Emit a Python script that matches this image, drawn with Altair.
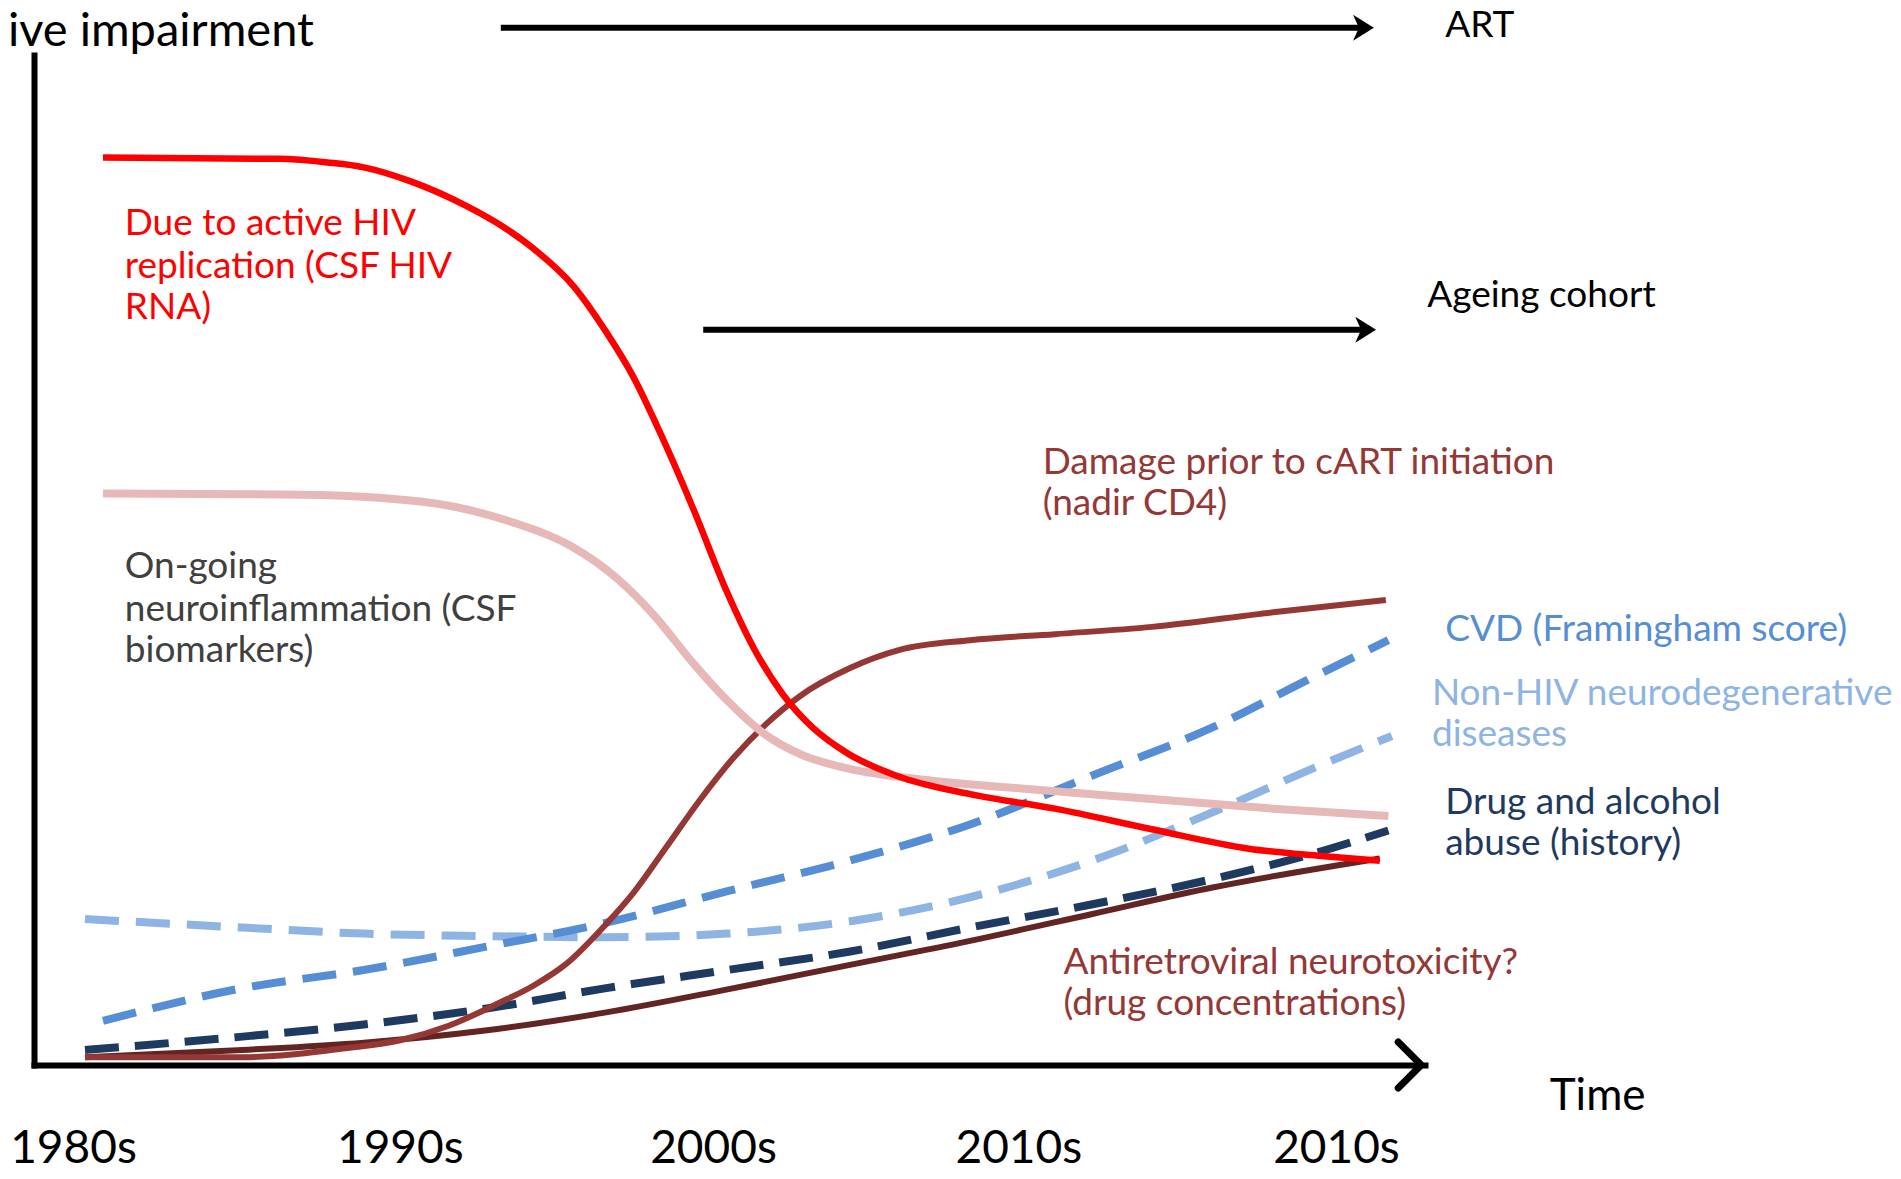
import altair as alt
import pandas as pd

# x: time in decades (0 = 1980s ... 4 = last "2010s"), y: impairment level (0-100)
tick_pos = [0.0, 1.035, 2.027, 2.994, 4.0]
tick_labels = ["1980s", "1990s", "2000s", "2010s", "2010s"]

red_x = [0.095, 0.652, 0.806, 0.921, 1.074, 1.247, 1.362, 1.458, 1.585, 1.689, 1.773, 1.858, 1.965, 2.069, 2.157, 2.249, 2.342, 2.457, 2.610, 2.841, 3.110, 3.417, 3.724, 3.954, 4.139]
red_y = [89.84, 89.72, 89.36, 88.88, 87.44, 85.04, 83.00, 80.84, 77.12, 72.56, 68.23, 62.71, 55.03, 46.99, 41.22, 36.66, 33.42, 30.78, 28.62, 26.82, 25.38, 23.34, 21.42, 20.70, 20.22]

pink_x = [0.095, 0.729, 1.113, 1.382, 1.574, 1.727, 1.842, 1.958, 2.073, 2.188, 2.303, 2.457, 2.687, 3.033, 3.417, 3.801, 4.166]
pink_y = [56.59, 56.47, 55.75, 53.83, 51.43, 48.07, 44.46, 40.02, 36.06, 32.82, 30.78, 29.34, 28.26, 27.30, 26.34, 25.38, 24.66]

dmg_x = [0.038, 0.537, 0.882, 1.036, 1.190, 1.351, 1.458, 1.562, 1.689, 1.773, 1.881, 1.985, 2.092, 2.196, 2.303, 2.461, 2.618, 2.841, 3.110, 3.417, 3.801, 4.158]
dmg_y = [0.77, 0.77, 1.73, 2.45, 3.89, 6.17, 7.85, 10.01, 13.97, 16.97, 21.66, 26.22, 30.42, 33.78, 36.54, 39.30, 41.10, 42.06, 42.66, 43.38, 44.82, 46.03]

arv_x = [0.038, 0.537, 0.921, 1.305, 1.689, 2.073, 2.457, 2.841, 3.225, 3.609, 4.139]
arv_y = [0.77, 1.49, 2.21, 3.41, 5.21, 7.49, 9.89, 12.29, 14.93, 17.57, 20.45]

drug_x = [0.038, 0.537, 0.921, 1.305, 1.689, 2.073, 2.457, 2.841, 3.225, 3.609, 3.916, 4.166]
drug_y = [1.49, 2.81, 4.01, 5.57, 7.61, 9.41, 11.21, 13.61, 15.89, 18.41, 20.82, 23.22]

cvd_x = [0.095, 0.537, 0.921, 1.305, 1.689, 2.073, 2.457, 2.841, 3.225, 3.609, 3.916, 4.166]
cvd_y = [4.37, 7.61, 9.41, 11.69, 14.09, 17.21, 20.21, 23.82, 28.62, 33.42, 38.22, 42.06]

neuro_x = [0.038, 0.537, 0.921, 1.305, 1.689, 2.073, 2.457, 2.841, 3.225, 3.609, 3.916, 4.177]
neuro_y = [14.45, 13.61, 13.01, 12.77, 12.65, 13.01, 14.21, 16.61, 20.21, 25.02, 29.22, 32.58]

# period arrows (ART, ageing cohort)
arrow_names = ["ART", "Ageing cohort"]
arrow_start = [1.355, 1.996]
arrow_tip = [4.120, 4.127]
arrow_level = [102.69, 72.80]

# labels: one row per text line
label_text = [
    "Due to active HIV", "replication (CSF HIV", "RNA)",
    "On-going", "neuroinflammation (CSF", "biomarkers)",
    "Damage prior to cART initiation", "(nadir CD4)",
    "CVD (Framingham score)",
    "Non-HIV neurodegenerative", "diseases",
    "Drug and alcohol", "abuse (history)",
    "Antiretroviral neurotoxicity?", "(drug concentrations)",
    "ART", "Ageing cohort",
]
label_x = [0.164, 0.164, 0.164, 0.164, 0.164, 0.164, 3.071, 3.071, 4.346, 4.304, 4.304,
           4.346, 4.346, 3.137, 3.137, 4.346, 4.289]
label_y = [83.24, 79.04, 74.96, 49.27, 45.07, 40.98, 59.59, 55.51, 43.02, 36.78, 32.70,
           25.98, 21.90, 10.13, 6.05, 102.9, 76.16]
label_color = ["#FF0000"] * 3 + ["#404040"] * 3 + ["#953735"] * 2 + ["#558ED5"] + \
              ["#8EB4E3"] * 2 + ["#1F3A60"] * 2 + ["#953735"] * 2 + ["black"] * 2

time_label = {"text": ["Time"], "x": [4.677], "y": [-3.19]}
yaxis_label = {"text": ["ive impairment"], "x": [-0.206], "y": [104.55]}

FONT = "Lato"

xs = alt.Scale(domain=[-0.1235, 4.282], nice=False, zero=False)
ys = alt.Scale(domain=[0, 100], nice=False, zero=False)

label_expr = "[" + ",".join("'%s'" % t for t in tick_labels) + "][indexof([" + \
    ",".join(str(p) for p in tick_pos) + "], datum.value)]"

x_axis = alt.Axis(values=tick_pos, labelExpr=label_expr, domain=True, domainColor="black",
                  domainWidth=6, domainCap="square", ticks=False, tickSize=0, grid=False,
                  labelFontSize=46, labelFont=FONT, labelColor="black", labelPadding=97,
                  labelBaseline="alphabetic", labelOverlap=False, labelFlush=False, labelAngle=0,
                  title=None)
y_axis = alt.Axis(domain=True, domainColor="black", domainWidth=6, domainCap="square",
                  ticks=False, labels=False, grid=False, title=None)


def X(field):
    return alt.X(field, type="quantitative", scale=xs, axis=x_axis)


def Y(field):
    return alt.Y(field, type="quantitative", scale=ys, axis=y_axis)


def series(xv, yv, color, width, dash=None):
    df = pd.DataFrame({"x": xv, "y": yv})
    kw = dict(color=color, strokeWidth=width, interpolate="monotone", strokeCap="butt")
    if dash:
        kw["strokeDash"] = dash
    return alt.Chart(df).mark_line(**kw).encode(x=X("x"), y=Y("y"))


lines = [
    series(neuro_x, neuro_y, "#8EB4E3", 8, [34, 17]),
    series(cvd_x, cvd_y, "#558ED5", 8, [34, 17]),
    series(arv_x, arv_y, "#632523", 6),
    series(drug_x, drug_y, "#1F3A60", 8, [34, 16]),
    series(dmg_x, dmg_y, "#953735", 6),
    series(pink_x, pink_y, "#E6B9B8", 8),
    series(red_x, red_y, "#FF0000", 6.5),
]

arrows_df = pd.DataFrame({"name": arrow_names, "start": arrow_start, "tip": arrow_tip,
                          "level": arrow_level})
shafts = alt.Chart(arrows_df).mark_rule(color="black", strokeWidth=6, x2Offset=-8).encode(
    x=X("start"), x2="tip:Q", y=Y("level"),
)
heads = alt.Chart(arrows_df).mark_point(
    shape="M-1.6,-1L0,0L-1.6,1L-1.15,0Z", filled=True, color="black", opacity=1, size=676
).encode(x=X("tip"), y=Y("level"))

axis_tip_df = pd.DataFrame({"x": [4.27], "y": [0.0]})
axis_head = alt.Chart(axis_tip_df).mark_point(
    shape="M-1,-1L0,0L-1,1", filled=False, color="black", opacity=1, size=2116,
    strokeWidth=7, strokeCap="round", strokeJoin="round"
).encode(x=X("x"), y=Y("y"))

labels_df = pd.DataFrame({"text": label_text, "x": label_x, "y": label_y, "color": label_color})
labels = alt.Chart(labels_df).mark_text(
    align="left", baseline="middle", font=FONT, fontSize=37
).encode(
    x=X("x"), y=Y("y"), text="text:N", color=alt.Color("color:N", scale=None),
)

time_text = alt.Chart(pd.DataFrame(time_label)).mark_text(
    align="left", baseline="middle", font=FONT, fontSize=44, color="black"
).encode(x=X("x"), y=Y("y"), text="text:N")

ytitle = alt.Chart(pd.DataFrame(yaxis_label)).mark_text(
    align="left", baseline="top", font=FONT, fontSize=47, color="black"
).encode(x=X("x"), y=Y("y"), text="text:N")

chart = alt.layer(*lines, shafts, heads, axis_head, labels, time_text, ytitle).properties(
    width=1391, height=1010,
    padding={"left": 26, "top": 47, "right": 468, "bottom": 106},
    autosize=alt.AutoSizeParams(type="none"),
    background="white",
).configure_view(stroke=None)

chart.save("out.html", embed_options={"renderer": "svg", "actions": False})
